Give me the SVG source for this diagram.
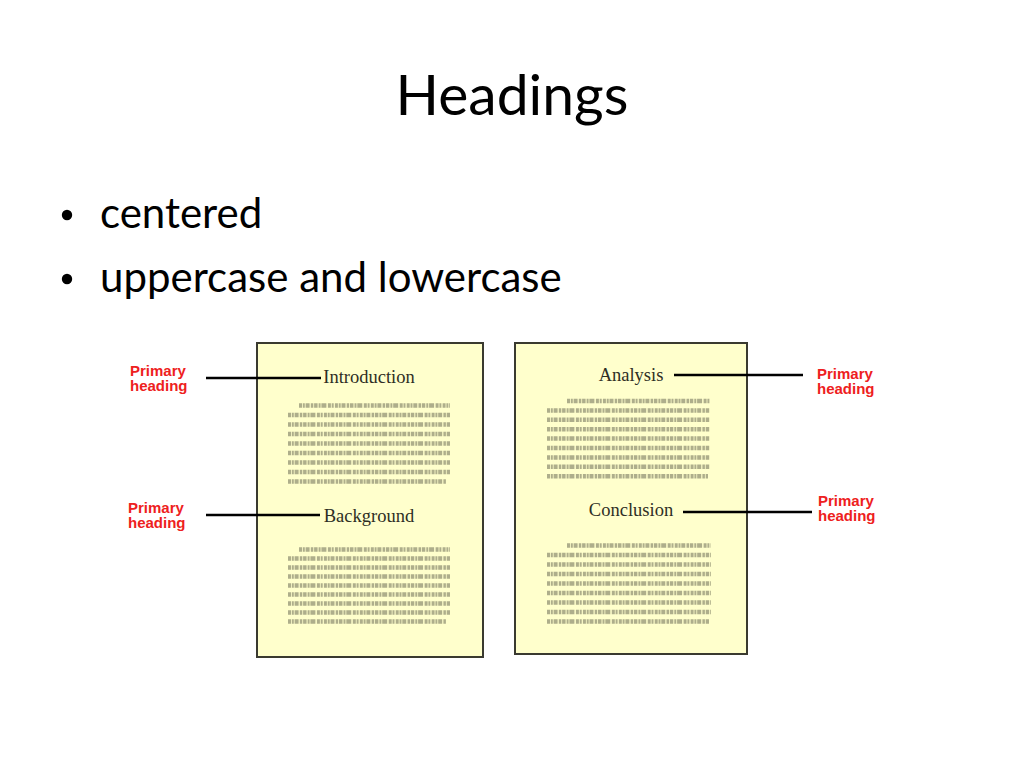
<svg xmlns="http://www.w3.org/2000/svg" width="1024" height="768" viewBox="0 0 1024 768">
<style>
.title{font-family:Lato,"Open Sans",sans-serif;font-size:57px;fill:#000}
.bullet{font-family:Lato,"Open Sans",sans-serif;font-size:42px;fill:#000}
.page{fill:#FFFFCC;stroke:#3a3a30;stroke-width:2}
.head{font-family:"Liberation Serif","Times New Roman",serif;font-size:18.5px;fill:#2e2e24;text-anchor:middle}
.label{font-family:"Liberation Sans",Arial,sans-serif;font-size:15px;font-weight:bold;fill:#EE2020}
.conn{stroke:#000;stroke-width:2.6;fill:none}
.greek{stroke:#5e5e4a;stroke-width:4.5;fill:none;opacity:0.5;stroke-dasharray:3 0.8 2 0.8 4 1.2 2.5 0.8 3.5 1 2 0.8 5 1.5 3 0.8 2 1.2}
</style>
<rect width="1024" height="768" fill="#fff"/>
<g id="title"><text class="title" x="512" y="115" text-anchor="middle">Headings</text></g>
<g id="bullets">
<circle cx="67" cy="215" r="5.2" fill="#000"/>
<text class="bullet" x="100" y="228">centered</text>
<circle cx="67" cy="279" r="5.2" fill="#000"/>
<text class="bullet" x="100" y="292">uppercase and lowercase</text>
</g>
<g id="page-left">
<rect class="page" x="257" y="343" width="226" height="314"/>
<text class="head" x="369" y="383">Introduction</text>
<path class="greek" d="M299 405.5H450M288 415H450M288 424.5H450M288 434H450M288 443.5H450M288 453H450M288 462.5H450M288 472H450M288 481.5H446"/>
<text class="head" x="369" y="522">Background</text>
<path class="greek" d="M299 549.5H450M288 558.5H450M288 567.5H450M288 576.5H450M288 585.5H450M288 594.5H450M288 603.5H450M288 612.5H450M288 621.5H446"/>
</g>
<g id="page-right">
<rect class="page" x="515" y="343" width="232" height="311"/>
<text class="head" x="631" y="381">Analysis</text>
<path class="greek" d="M567 401H710M547 410.4H710M547 419.8H710M547 429.2H710M547 438.6H710M547 448H710M547 457.4H710M547 466.8H710M547 476.2H708"/>
<text class="head" x="631" y="516">Conclusion</text>
<path class="greek" d="M567 545.5H711M547 555H711M547 564.5H711M547 574H711M547 583.5H711M547 593H711M547 602.5H711M547 612H711M547 621.5H709"/>
</g>
<g id="labels">
<text class="label" x="130" y="376">Primary<tspan x="130" dy="15">heading</tspan></text>
<text class="label" x="128" y="513">Primary<tspan x="128" dy="15">heading</tspan></text>
<text class="label" x="817" y="379">Primary<tspan x="817" dy="15">heading</tspan></text>
<text class="label" x="818" y="506">Primary<tspan x="818" dy="15">heading</tspan></text>
</g>
<g id="connectors">
<line class="conn" x1="206" y1="378" x2="321" y2="378"/>
<line class="conn" x1="206" y1="515" x2="320" y2="515"/>
<line class="conn" x1="674" y1="375" x2="803" y2="375"/>
<line class="conn" x1="683" y1="512" x2="812" y2="512"/>
</g>
</svg>
